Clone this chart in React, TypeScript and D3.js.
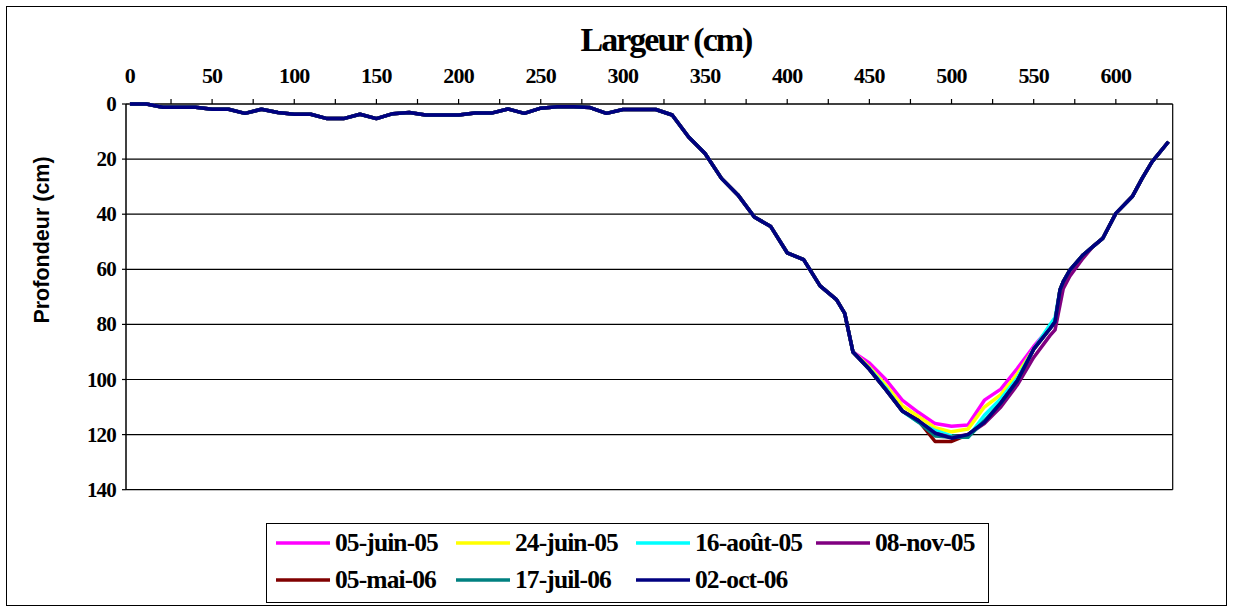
import React from "react";
import * as d3 from "d3";

// Shared profile, left bank and flat part (x in cm, depth in cm)
const leftX = [0,10,20,30,40,50,60,70,80,90,100,110,120,130,140,150,160,170,180,190,200,210,220,230,240,250,260,270,280,290,300,310,320,330,340,350,360,370,380,390,400,410,420,430,435,440];
const leftDepth = [0,0,1.2,1.2,1.2,1.9,1.9,3.4,1.9,3.1,3.7,3.7,5.3,5.3,3.7,5.3,3.5,3.1,4,4,4,3.3,3.3,1.8,3.4,1.5,1,1,1.3,3.4,2,2,2,4,12,18,27,33,41,44.5,54,56.5,66,71,76,90];

// Bottom of the channel, where the surveys differ
const bottomX = [450,460,470,480,490,500,510,520,530,540,550,560,563,566,568,572,580];
const d05juin05 = [94,100,107.5,112,116,117,116.5,107.5,103.5,96,88,81,79,67.5,64.5,60.3,54.8];
const d24juin05 = [95.5,102,109.5,113.5,117.5,119,118,110,105.5,98,89,81,79,67.5,64.5,60.3,54.8];
const d16aout05 = [96,103,111.5,115.5,118.5,120.5,121,113,107,99.5,89,80,77.5,67.5,64.5,60.3,54.8];
const d08nov05 = [96.3,103.7,111.4,115,119.5,121,120,116,110,102,92,84,82,73,67,62.5,56];
const d05mai06 = [96.3,103.7,111.4,115,122.5,122.5,120,115.5,108.5,100.5,89,81.5,79,67.5,64.5,60.3,54.8];
const d17juil06 = [96.3,103.7,111.4,115.5,120.5,121,121,115,108.5,100.5,89,81.5,79,67.5,64.5,60.3,54.8];
const d02oct06 = [96.3,103.7,111.4,115,119.5,121.3,120,115.5,108.5,100.5,89,81.5,79,67.5,64.5,60.3,54.8];

// Shared right bank
const rightX = [586,592,600,610,616,622,632];
const rightDepth = [51.8,48.8,39.7,33.6,27,21,13.7];

const seriesNames = ["05-juin-05","24-juin-05","16-août-05","08-nov-05","05-mai-06","17-juil-06","02-oct-06"];
const seriesColors = ["#FF00FF","#FFFF00","#00FFFF","#800080","#800000","#008080","#000080"];
const seriesBottoms = [d05juin05,d24juin05,d16aout05,d08nov05,d05mai06,d17juil06,d02oct06];

const xLabels = [0,50,100,150,200,250,300,350,400,450,500,550,600];
const xTicks = [25,50,75,100,125,150,175,200,225,250,275,300,325,350,375,400,425,450,475,500,525,550,575,600,625];
const yTicks = [0,20,40,60,80,100,120,140];

export default function App() {
  const x = d3.scaleLinear().domain([-2.4, 634.6]).range([126, 1172.7]);
  const y = d3.scaleLinear().domain([0, 140]).range([104, 489.7]);
  const line = d3.line<[number, number]>().x(d => x(d[0])).y(d => y(d[1]));

  const series = seriesBottoms.map((b, i) => {
    const pts: [number, number][] = [];
    leftX.forEach((v, j) => pts.push([v, leftDepth[j]]));
    bottomX.forEach((v, j) => pts.push([v, b[j]]));
    rightX.forEach((v, j) => pts.push([v, rightDepth[j]]));
    return { name: seriesNames[i], color: seriesColors[i], pts };
  });

  const [x0, x1] = x.range();
  const [y0, y1] = y.range();
  const serif = "'Liberation Serif', 'Times New Roman', serif";

  const legendCols = [276, 456, 636, 816];
  const legendRows = [543, 580];

  return (
    <svg width={1234} height={612} style={{ position: "absolute", left: 0, top: 0, background: "#fff" }}>
      <rect x={6.5} y={6.5} width={1220} height={599} fill="#fff" stroke="#000" strokeWidth={1} />
      {/* gridlines */}
      {yTicks.filter(t => t > 0 && t < 140).map(t => (
        <line key={t} x1={x0} x2={x1} y1={y(t)} y2={y(t)} stroke="#000" strokeWidth={1.2} />
      ))}
      {/* plot frame */}
      <line x1={x1} x2={x1} y1={y0} y2={y1} stroke="#000" strokeWidth={1.2} />
      <line x1={x0} x2={x1} y1={y1} y2={y1} stroke="#000" strokeWidth={1.2} />
      {/* y axis */}
      <line x1={x0} x2={x0} y1={y0} y2={y1} stroke="#000" strokeWidth={1.5} />
      {yTicks.map(t => (
        <g key={t}>
          <line x1={x0 - 4} x2={x0} y1={y(t)} y2={y(t)} stroke="#000" strokeWidth={1.2} />
          <text x={116} y={y(t) + 7} textAnchor="end" fontFamily={serif} fontWeight="bold" fontSize={21} letterSpacing={-0.8}>{t}</text>
        </g>
      ))}
      {/* x axis at top */}
      <line x1={x0} x2={x1} y1={y0} y2={y0} stroke="#000" strokeWidth={1.5} />
      {xTicks.map(t => (
        <line key={t} x1={x(t)} x2={x(t)} y1={y0 - 5} y2={y0} stroke="#000" strokeWidth={1.2} />
      ))}
      {xLabels.map(t => (
        <text key={t} x={x(t)} y={83} textAnchor="middle" fontFamily={serif} fontWeight="bold" fontSize={22} letterSpacing={-0.8}>{t}</text>
      ))}
      <text x={666} y={51} textAnchor="middle" fontFamily={serif} fontWeight="bold" fontSize={34} letterSpacing={-2}>Largeur (cm)</text>
      <text transform="translate(49,240) rotate(-90)" textAnchor="middle" fontFamily="'Liberation Sans', Arial, sans-serif" fontWeight="bold" fontSize={21.5}>Profondeur (cm)</text>
      {/* series */}
      {series.map(s => (
        <path key={s.name} d={line(s.pts) || ""} fill="none" stroke={s.color} strokeWidth={3.5} strokeLinejoin="round" />
      ))}
      {/* legend */}
      <rect x={266.5} y={523.5} width={722} height={79} fill="#fff" stroke="#000" strokeWidth={1} />
      {series.map((s, i) => {
        const cx = legendCols[i % 4];
        const cy = legendRows[Math.floor(i / 4)];
        return (
          <g key={s.name}>
            <line x1={cx} x2={cx + 54} y1={cy} y2={cy} stroke={s.color} strokeWidth={3.5} />
            <text x={cx + 59} y={cy + 8} fontFamily={serif} fontWeight="bold" fontSize={25.5} letterSpacing={-0.9}>{s.name}</text>
          </g>
        );
      })}
    </svg>
  );
}
